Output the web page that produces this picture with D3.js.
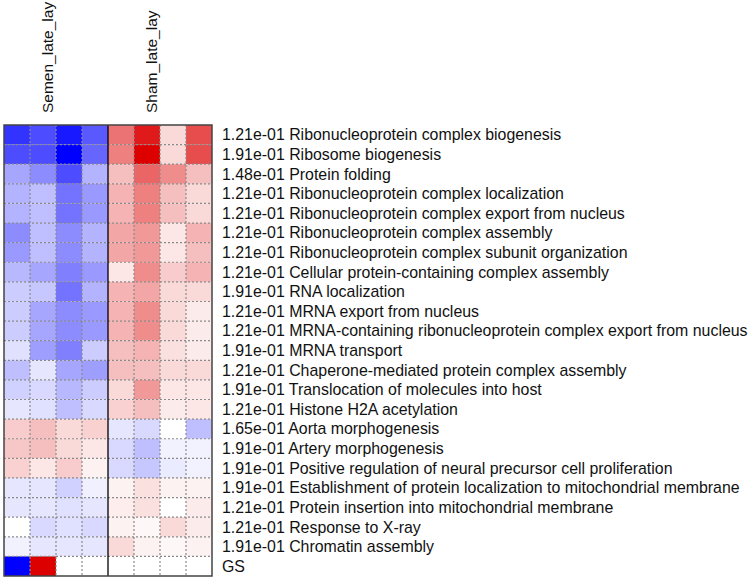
<!DOCTYPE html>
<html>
<head>
<meta charset="utf-8">
<script src="https://cdn.jsdelivr.net/npm/d3@7"></script>
<style>
  body { margin: 0; background: #fff; }
  text { font-family: "Liberation Sans", Arial, sans-serif; fill: #111; }
</style>
</head>
<body>
<svg id="chart" width="752" height="579"></svg>
<script>
// group labels (columns 0-3 Semen, 4-7 Sham)
const groups = ['Semen_late_lay', 'Sham_late_lay'];
const columns = ['S1', 'S2', 'S3', 'S4', 'H1', 'H2', 'H3', 'H4'];

const pvalues = ['1.21e-01', '1.91e-01', '1.48e-01', '1.21e-01', '1.21e-01', '1.21e-01', '1.21e-01', '1.21e-01',
  '1.91e-01', '1.21e-01', '1.21e-01', '1.91e-01', '1.21e-01', '1.91e-01', '1.21e-01', '1.65e-01',
  '1.91e-01', '1.91e-01', '1.91e-01', '1.21e-01', '1.21e-01', '1.91e-01', ''];

const terms = [
  'Ribonucleoprotein complex biogenesis',
  'Ribosome biogenesis',
  'Protein folding',
  'Ribonucleoprotein complex localization',
  'Ribonucleoprotein complex export from nucleus',
  'Ribonucleoprotein complex assembly',
  'Ribonucleoprotein complex subunit organization',
  'Cellular protein-containing complex assembly',
  'RNA localization',
  'MRNA export from nucleus',
  'MRNA-containing ribonucleoprotein complex export from nucleus',
  'MRNA transport',
  'Chaperone-mediated protein complex assembly',
  'Translocation of molecules into host',
  'Histone H2A acetylation',
  'Aorta morphogenesis',
  'Artery morphogenesis',
  'Positive regulation of neural precursor cell proliferation',
  'Establishment of protein localization to mitochondrial membrane',
  'Protein insertion into mitochondrial membrane',
  'Response to X-ray',
  'Chromatin assembly',
  'GS'
];

// scaled scores, -1 = blue, +1 = red
const scores = [
  [-0.80, -0.70, -0.90, -0.65, 0.55, 0.90, 0.15, 0.70],
  [-0.70, -0.70, -1.00, -0.60, 0.50, 1.00, 0.15, 0.70],
  [-0.35, -0.45, -0.70, -0.30, 0.25, 0.60, 0.45, 0.25],
  [-0.30, -0.25, -0.55, -0.40, 0.30, 0.50, 0.25, 0.15],
  [-0.30, -0.25, -0.55, -0.40, 0.30, 0.50, 0.25, 0.15],
  [-0.45, -0.25, -0.45, -0.30, 0.35, 0.40, 0.10, 0.30],
  [-0.40, -0.25, -0.45, -0.30, 0.35, 0.40, 0.10, 0.25],
  [-0.28, -0.35, -0.50, -0.40, 0.10, 0.45, 0.20, 0.30],
  [-0.20, -0.22, -0.55, -0.30, 0.30, 0.35, 0.15, 0.15],
  [-0.20, -0.35, -0.45, -0.40, 0.30, 0.45, 0.15, 0.08],
  [-0.20, -0.35, -0.45, -0.40, 0.30, 0.45, 0.15, 0.08],
  [-0.12, -0.38, -0.50, -0.20, 0.25, 0.30, 0.12, 0.08],
  [-0.25, -0.10, -0.35, -0.38, 0.25, 0.25, 0.15, 0.15],
  [-0.18, -0.15, -0.28, -0.20, 0.15, 0.40, 0.10, 0.10],
  [-0.10, -0.12, -0.25, -0.15, 0.18, 0.25, 0.08, 0.10],
  [0.20, 0.25, 0.15, 0.18, -0.10, -0.15, 0.00, -0.25],
  [0.22, 0.25, 0.15, 0.10, -0.15, -0.25, -0.05, -0.05],
  [0.18, 0.10, 0.20, 0.05, -0.15, -0.22, -0.08, -0.05],
  [-0.10, -0.10, -0.18, -0.06, 0.05, 0.12, 0.05, 0.05],
  [-0.10, -0.10, -0.12, -0.10, 0.07, 0.12, 0.00, 0.08],
  [0.00, -0.15, -0.12, -0.15, 0.05, 0.03, 0.15, 0.08],
  [-0.05, -0.10, -0.10, -0.10, 0.15, 0.05, 0.03, 0.05],
  [-1.00, 1.00, 0.00, 0.00, 0.00, 0.00, 0.00, 0.00]
];

const svg = d3.select('#chart');

const gridLeft = 4, gridRight = 212, gridTop = 125, gridBottom = 576;

const x = d3.scaleBand().domain(columns).range([gridLeft, gridRight]);
const y = d3.scaleBand().domain(d3.range(terms.length)).range([gridTop, gridBottom]);

const color = d3.scaleLinear()
  .domain([-1, 0, 1])
  .range(['#0000ff', '#ffffff', '#dc0000'])
  .interpolate(d3.interpolateRgb);

// cells
const cells = [];
scores.forEach((row, i) => row.forEach((v, j) => cells.push({ i, j, v })));

svg.append('g')
  .selectAll('rect')
  .data(cells)
  .enter()
  .append('rect')
  .attr('x', d => x(columns[d.j]))
  .attr('y', d => y(d.i))
  .attr('width', x.bandwidth())
  .attr('height', y.bandwidth())
  .attr('fill', d => color(d.v));

// dashed grid
const grid = svg.append('g')
  .attr('stroke', '#8a8a8a')
  .attr('stroke-width', 1.2)
  .attr('stroke-dasharray', '2,2');

grid.selectAll('.h')
  .data(d3.range(1, terms.length))
  .enter()
  .append('line')
  .attr('x1', gridLeft).attr('x2', gridRight)
  .attr('y1', d => y(d)).attr('y2', d => y(d));

grid.selectAll('.v')
  .data(columns.filter((c, j) => j > 0 && j !== 4))
  .enter()
  .append('line')
  .attr('x1', d => x(d)).attr('x2', d => x(d))
  .attr('y1', gridTop).attr('y2', gridBottom);

// group separator and outer border
svg.append('line')
  .attr('x1', x(columns[4])).attr('x2', x(columns[4]))
  .attr('y1', gridTop).attr('y2', gridBottom)
  .attr('stroke', '#000')
  .attr('stroke-width', 1.3);

svg.append('rect')
  .attr('x', gridLeft).attr('y', gridTop)
  .attr('width', gridRight - gridLeft).attr('height', gridBottom - gridTop)
  .attr('fill', 'none')
  .attr('stroke', '#444')
  .attr('stroke-width', 1.5);

// column group labels
svg.selectAll('.group')
  .data(groups)
  .enter()
  .append('text')
  .attr('transform', (d, k) => {
    const cx = x(columns[k * 4 + 1]) + x.bandwidth() / 2 + 10;
    return `translate(${cx},113) rotate(-90)`;
  })
  .attr('font-size', 15.5)
  .text(d => d);

// row labels
svg.append('g')
  .selectAll('text')
  .data(terms)
  .enter()
  .append('text')
  .attr('x', 222)
  .attr('y', (d, i) => y(i) + y.bandwidth() / 2)
  .attr('dy', '0.35em')
  .attr('font-size', 15.9)
  .text((d, i) => pvalues[i] ? pvalues[i] + ' ' + d : d);
</script>
</body>
</html>
